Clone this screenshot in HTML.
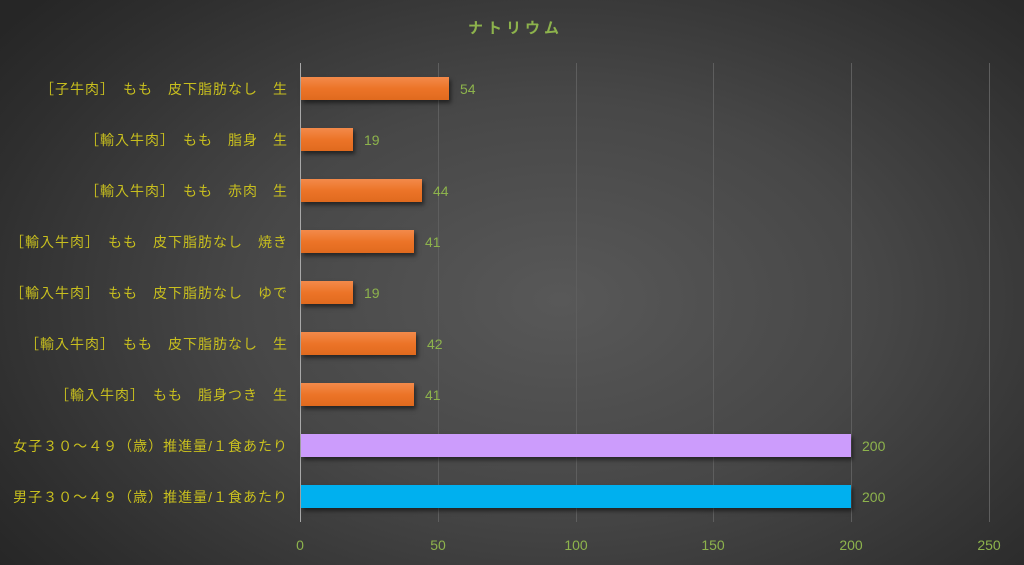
<!DOCTYPE html>
<html><head><meta charset="utf-8"><style>
body{margin:0;width:1024px;height:565px;overflow:hidden;background:radial-gradient(ellipse 700px 450px at 560px 300px,#585858 0%,#474747 45%,#2e2e2e 85%,#262626 100%);font-family:"Liberation Sans","Noto Sans CJK JP",sans-serif;position:relative}
.a{position:absolute}
.lab{position:absolute;right:736px;color:#c8bf1e;font-size:14px;letter-spacing:1px;white-space:nowrap;line-height:16px}
.val{position:absolute;color:#8db34c;font-size:14px;line-height:16px}
.g{position:absolute;top:63px;height:459px;width:1px;background:#5e5e5e}
.bar{position:absolute;left:301px;height:23px;box-shadow:2px 3px 4px rgba(0,0,0,.5)}
.o{background:linear-gradient(#f38a4a,#ec7428 50%,#e06a1e)}
.t{position:absolute;top:537px;color:#8db34c;font-size:14px;width:40px;text-align:center;margin-left:-20px}
</style></head><body>
<div class="a" style="left:468px;top:17px;color:#8db34c;font-size:15px;font-weight:bold;letter-spacing:4px">ナトリウム</div>
<div class="g" style="left:438px"></div><div class="g" style="left:576px"></div><div class="g" style="left:713px"></div><div class="g" style="left:851px"></div><div class="g" style="left:989px"></div>
<div class="a" style="left:300px;top:63px;width:1px;height:459px;background:#a8a8a8"></div>

<div class="bar o" style="top:77px;width:148px"></div><div class="val" style="left:460px;top:81px">54</div><div class="lab" style="top:81px">［子牛肉］　もも　皮下脂肪なし　生</div>
<div class="bar o" style="top:128px;width:52px"></div><div class="val" style="left:364px;top:132px">19</div><div class="lab" style="top:132px">［輸入牛肉］　もも　脂身　生</div>
<div class="bar o" style="top:179px;width:121px"></div><div class="val" style="left:433px;top:183px">44</div><div class="lab" style="top:183px">［輸入牛肉］　もも　赤肉　生</div>
<div class="bar o" style="top:230px;width:113px"></div><div class="val" style="left:425px;top:234px">41</div><div class="lab" style="top:234px">［輸入牛肉］　もも　皮下脂肪なし　焼き</div>
<div class="bar o" style="top:281px;width:52px"></div><div class="val" style="left:364px;top:285px">19</div><div class="lab" style="top:285px">［輸入牛肉］　もも　皮下脂肪なし　ゆで</div>
<div class="bar o" style="top:332px;width:115px"></div><div class="val" style="left:427px;top:336px">42</div><div class="lab" style="top:336px">［輸入牛肉］　もも　皮下脂肪なし　生</div>
<div class="bar o" style="top:383px;width:113px"></div><div class="val" style="left:425px;top:387px">41</div><div class="lab" style="top:387px">［輸入牛肉］　もも　脂身つき　生</div>
<div class="bar" style="top:434px;width:550px;background:#cc9cfc"></div><div class="val" style="left:862px;top:438px">200</div><div class="lab" style="top:438px">女子３０～４９（歳）推進量/１食あたり</div>
<div class="bar" style="top:485px;width:550px;background:#00b0ef"></div><div class="val" style="left:862px;top:489px">200</div><div class="lab" style="top:489px">男子３０～４９（歳）推進量/１食あたり</div>

<div class="t" style="left:300px">0</div><div class="t" style="left:438px">50</div><div class="t" style="left:576px">100</div><div class="t" style="left:713px">150</div><div class="t" style="left:851px">200</div><div class="t" style="left:989px">250</div>
</body></html>
